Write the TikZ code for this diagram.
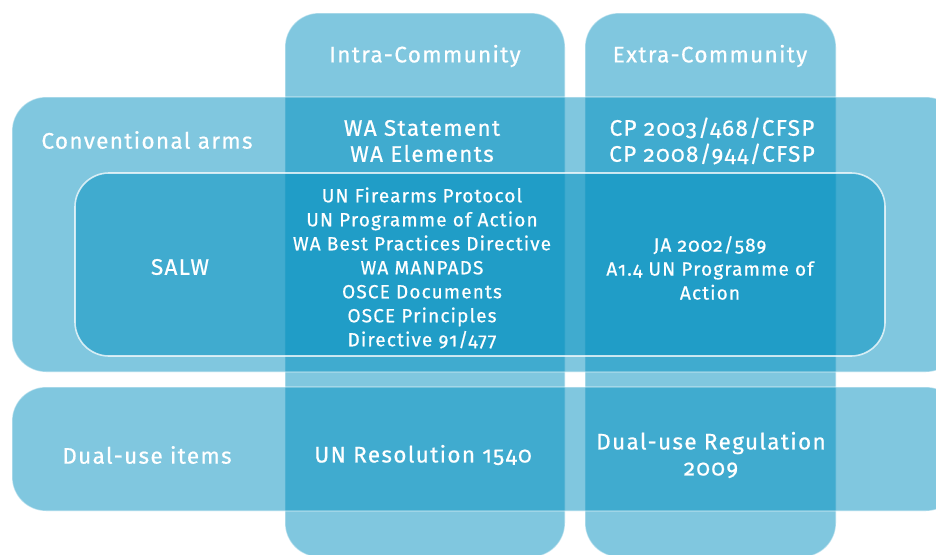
\documentclass[tikz,border=0pt]{standalone}
\usepackage{fontspec}
\setmainfont{Fira Sans}[Numbers=OldStyle, LetterSpace=6, FakeBold=0.6]
\definecolor{boxblue}{RGB}{1,143,191}
\tikzset{
  shade box/.style={rounded corners=34pt, fill=boxblue, fill opacity=0.5,
    draw=white, draw opacity=0.45, line width=1.2pt, inner sep=0pt, outer sep=0pt},
  salw box/.style={rounded corners=34pt, fill=boxblue, fill opacity=0.5,
    draw=white, draw opacity=0.75, line width=1.6pt, inner sep=0pt, outer sep=0pt},
  head/.style={text=white, font=\fontsize{22.5}{26}\selectfont, align=center, inner sep=0pt},
  small/.style={text=white, font=\fontsize{19}{24}\selectfont, align=center, inner sep=0pt},
}
\begin{document}
\begin{tikzpicture}[x=1pt,y=-1pt]
\useasboundingbox (0,0) rectangle (936,554);
\begin{scope}
\clip (0,0) rectangle (936,554);
% columns
\node[shade box, minimum width=280pt, minimum height=544pt] (intra) at (425,285) {};
\node[shade box, minimum width=251pt, minimum height=544pt] (extra) at (710.5,285) {};
% rows
\node[shade box, minimum width=948pt, minimum height=275pt] (conv) at (486,234.5) {};
\node[shade box, minimum width=948pt, minimum height=124pt] (dual) at (486,449) {};
% SALW
\node[salw box, minimum width=810pt, minimum height=183pt] (salwbox) at (480,264.5) {};
\end{scope}
% texts
\node[head] (tintra) at (425,56) {Intra-Community};
\node[head] (textra) at (710,56) {Extra-Community};
\node[head] (tconv) at (147,140) {Conventional arms};
\node[head] (twa) at (422,141) {WA Statement\\WA Elements};
\node[head] (tcp) at (712,141) {CP 2003/468/CFSP\\CP 2008/944/CFSP};
\node[head] (tsalw) at (180,267) {SALW};
\node[small] (tun) at (422,268) {UN Firearms Protocol\\UN Programme of Action\\WA Best Practices Directive\\WA MANPADS\\OSCE Documents\\OSCE Principles\\Directive 91/477};
\node[small] (tja) at (710,268) {JA 2002/589\\A1.4 UN Programme of\\Action};
\node[head] (tdui) at (147,455) {Dual-use items};
\node[head] (tres) at (423,455) {UN Resolution 1540};
\node[head] (treg) at (711,455) {Dual-use Regulation\\2009};
\end{tikzpicture}
\end{document}
